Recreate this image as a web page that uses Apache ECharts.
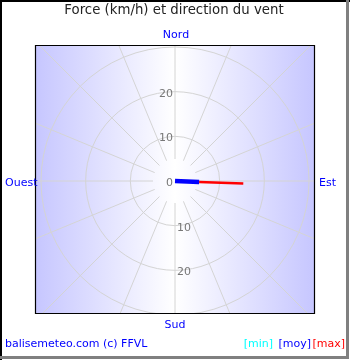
<!DOCTYPE html>
<html>
<head>
<meta charset="utf-8">
<script src="https://cdn.jsdelivr.net/npm/echarts@6/dist/echarts.min.js"></script>
<style>html,body{margin:0;padding:0;background:#fff}#c{width:350px;height:360px}</style>
</head>
<body>
<div id="c"></div>
<script>
// Wind observation (bearing in degrees, speeds in km/h)
var windDir = [92.2];
var windMin = [0];
var windMoy = [5.4];
var windMax = [15.3];
// Radius tick labels
var northTickLabels = ['0', '10', '20'];
var southTickLabels = ['10', '20'];
var radiusTicks = [0, 10, 20, 30];
// Compass labels
var compassLabels = ['Nord', 'Est', 'Sud', 'Ouest'];
var titleText = 'Force (km/h) et direction du vent';
var footerText = 'balisemeteo.com (c) FFVL';
var legendLabels = ['[min]', '[moy]', '[max]'];

var FONT = 'DejaVu Sans';
var CX = 175, CY = 181;
var R30 = 134;
var rectL = 35, rectT = 45, rectR = 315, rectB = 314;

var chart = echarts.init(document.getElementById('c'), null, {renderer: 'canvas'});

var hiddenAngle = function (idx, start) {
  return {polarIndex: idx, type: 'value', min: 0, max: 360, startAngle: start, clockwise: true,
    axisLine: {show: false}, axisTick: {show: false}, axisLabel: {show: false}, splitLine: {show: false}};
};

var series = [];
windDir.forEach(function (d, i) {
  series.push({type: 'line', coordinateSystem: 'polar', polarIndex: 1, symbol: 'none', z: 3,
    data: [[windMoy[i], d], [windMax[i], d]], lineStyle: {color: '#ff0000', width: 2.5}});
  series.push({type: 'line', coordinateSystem: 'polar', polarIndex: 1, symbol: 'none', z: 4,
    data: [[windMin[i], d], [windMoy[i], d]], lineStyle: {color: '#0000ff', width: 4.5}});
  series.push({type: 'line', coordinateSystem: 'polar', polarIndex: 1, symbol: 'none', z: 5,
    data: [[0, d], [windMin[i], d]], lineStyle: {color: '#00ffff', width: 4.5}});
});

var labelStyle = {show: true, color: '#777', fontFamily: FONT, fontSize: 11, margin: 2,
  rich: {t: {color: '#777', fontFamily: FONT, fontSize: 11, padding: [4, 0, 0, 0]}}};

var option = {
  animation: false,
  backgroundColor: {type: 'linear', x: 0, y: 0, x2: 1, y2: 0, colorStops: [
    {offset: 0, color: '#c6c6ff'}, {offset: rectL / 350, color: '#c6c6ff'},
    {offset: CX / 350, color: '#ffffff'},
    {offset: rectR / 350, color: '#c6c6ff'}, {offset: 1, color: '#c6c6ff'}]},
  polar: [
    {center: [CX, CY], radius: [22, 200]},
    {center: [CX, CY], radius: R30},
    {center: [CX, CY], radius: R30}
  ],
  angleAxis: [
    {polarIndex: 0, type: 'value', min: 0, max: 360, interval: 22.5, startAngle: 90, clockwise: true,
      axisLine: {show: false}, axisTick: {show: false}, axisLabel: {show: false},
      splitLine: {show: true, lineStyle: {color: '#d4d4d4', width: 1}}},
    hiddenAngle(1, 90),
    hiddenAngle(2, 270)
  ],
  radiusAxis: [
    {polarIndex: 0, type: 'value', min: 0, max: 40, axisLine: {show: false}, axisTick: {show: false},
      axisLabel: {show: false}, splitLine: {show: false}},
    {polarIndex: 1, type: 'value', min: radiusTicks[0], max: radiusTicks[radiusTicks.length - 1], interval: 10,
      axisLine: {show: false}, axisTick: {show: false},
      splitLine: {show: true, lineStyle: {color: '#d4d4d4', width: 1}},
      axisLabel: Object.assign({}, labelStyle, {
        formatter: function (v) { return northTickLabels.indexOf(String(v)) >= 0 ? '{t|' + v + '}' : ''; }})},
    {polarIndex: 2, type: 'value', min: radiusTicks[0], max: radiusTicks[radiusTicks.length - 1], interval: 10,
      axisLine: {show: false}, axisTick: {show: false}, splitLine: {show: false},
      axisLabel: Object.assign({}, labelStyle, {
        formatter: function (v) { return southTickLabels.indexOf(String(v)) >= 0 ? '{t|' + v + '}' : ''; }})}
  ],
  series: series,
  graphic: [
    {type: 'rect', z: 100, shape: {x: 0, y: 0, width: 350, height: rectT}, style: {fill: '#fff'}, silent: true},
    {type: 'rect', z: 100, shape: {x: 0, y: rectB, width: 350, height: 360 - rectB}, style: {fill: '#fff'}, silent: true},
    {type: 'rect', z: 100, shape: {x: 0, y: 0, width: rectL, height: 360}, style: {fill: '#fff'}, silent: true},
    {type: 'rect', z: 100, shape: {x: rectR, y: 0, width: 350 - rectR, height: 360}, style: {fill: '#fff'}, silent: true},
    {type: 'rect', z: 101, shape: {x: rectL + 0.5, y: rectT + 0.5, width: rectR - rectL - 1, height: rectB - rectT - 1},
      style: {fill: 'none', stroke: '#000', lineWidth: 1.2}, silent: true},
    // outer frame
    {type: 'polyline', z: 102, shape: {points: [[1, 360], [1, 1], [350, 1]]}, style: {stroke: '#000', lineWidth: 2, fill: 'none'}},
    {type: 'polyline', z: 102, shape: {points: [[347.5, 0], [347.5, 357.5], [0, 357.5]]}, style: {stroke: '#808080', lineWidth: 3, fill: 'none'}},
    // texts
    {type: 'text', z: 103, x: 174, y: 11, style: {text: titleText, fill: '#222', font: '13.3px "' + FONT + '"', align: 'center', verticalAlign: 'middle'}},
    {type: 'text', z: 103, x: 176, y: 35, style: {text: compassLabels[0], fill: '#0000ff', font: '11px "' + FONT + '"', align: 'center', verticalAlign: 'middle'}},
    {type: 'text', z: 103, x: 319, y: 183, style: {text: compassLabels[1], fill: '#0000ff', font: '11px "' + FONT + '"', align: 'left', verticalAlign: 'middle'}},
    {type: 'text', z: 103, x: 175, y: 325, style: {text: compassLabels[2], fill: '#0000ff', font: '11px "' + FONT + '"', align: 'center', verticalAlign: 'middle'}},
    {type: 'text', z: 103, x: 5, y: 183, style: {text: compassLabels[3], fill: '#0000ff', font: '11px "' + FONT + '"', align: 'left', verticalAlign: 'middle'}},
    {type: 'text', z: 103, x: 5, y: 344, style: {text: footerText, fill: '#0000ff', font: '11px "' + FONT + '"', align: 'left', verticalAlign: 'middle'}},
    {type: 'text', z: 103, x: 273, y: 344, style: {text: legendLabels[0], fill: '#00ffff', font: '11px "' + FONT + '"', align: 'right', verticalAlign: 'middle'}},
    {type: 'text', z: 103, x: 311, y: 344, style: {text: legendLabels[1], fill: '#0000ff', font: '11px "' + FONT + '"', align: 'right', verticalAlign: 'middle'}},
    {type: 'text', z: 103, x: 345, y: 344, style: {text: legendLabels[2], fill: '#ff0000', font: '11px "' + FONT + '"', align: 'right', verticalAlign: 'middle'}}
  ]
};
chart.setOption(option);
</script>
</body>
</html>
